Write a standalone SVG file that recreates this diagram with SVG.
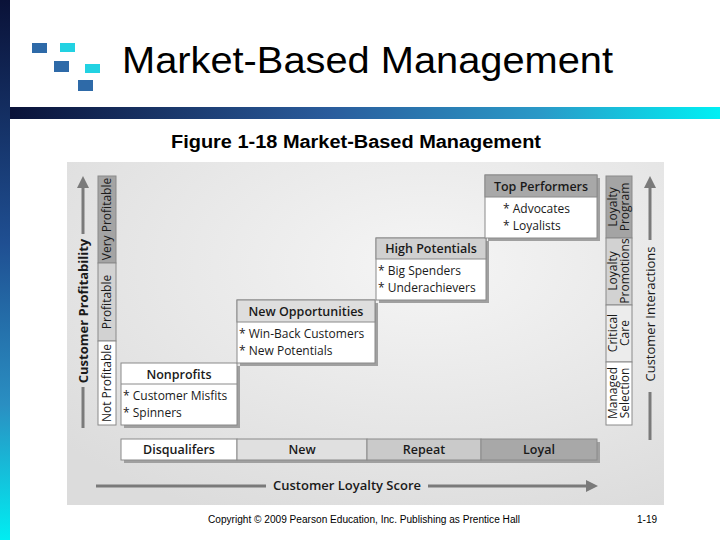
<svg xmlns="http://www.w3.org/2000/svg" width="720" height="540" viewBox="0 0 720 540">
<defs>
<linearGradient id="vstripe" x1="0" y1="0" x2="0" y2="1">
<stop offset="0" stop-color="#0a1238"/>
<stop offset="0.45" stop-color="#1f4f92"/>
<stop offset="0.75" stop-color="#2a8fc2"/>
<stop offset="1" stop-color="#00eef2"/>
</linearGradient>
<linearGradient id="hbar" x1="0" y1="0" x2="1" y2="0">
<stop offset="0" stop-color="#0a1238"/>
<stop offset="0.45" stop-color="#2a5c9c"/>
<stop offset="0.75" stop-color="#2a9ac8"/>
<stop offset="1" stop-color="#00f0f4"/>
</linearGradient>
<radialGradient id="figbg" cx="0.6" cy="0.3" r="0.8">
<stop offset="0" stop-color="#f5f5f5"/>
<stop offset="1" stop-color="#dcdcdc"/>
</radialGradient>
<marker id="ah" viewBox="0 0 10 10" refX="5" refY="5" markerWidth="4" markerHeight="4" orient="auto">
<path d="M0,0 L10,5 L0,10 z" fill="#7a7a7a"/>
</marker>
</defs>
<style>
.t{font-family:"Open Sans","Liberation Sans",sans-serif;fill:#1a1a1a}
.hd{font-size:12.5px;font-weight:600;text-anchor:middle}
.it{font-size:12px}
.ax{font-size:13px;text-anchor:middle}
.col{font-size:12px;text-anchor:middle}
.box{stroke:#8a8a8a;stroke-width:1}
.sh{fill:#a0a0a0}
.arr{stroke:#7a7a7a;stroke-width:3;fill:none}
</style>
<rect x="0" y="0" width="720" height="540" fill="#ffffff"/>
<rect x="0" y="0" width="10" height="540" fill="url(#vstripe)"/>
<rect x="10" y="107" width="710" height="12" fill="url(#hbar)"/>
<g id="logo">
<rect x="32" y="43" width="15" height="10" fill="#2e6aa8"/>
<rect x="60" y="43" width="15" height="9" fill="#22d2e2"/>
<rect x="54" y="61" width="15" height="11" fill="#2e6aa8"/>
<rect x="85" y="64" width="15" height="9" fill="#22d2e2"/>
<rect x="78" y="80" width="15" height="11" fill="#2e6aa8"/>
</g>
<text x="122" y="73" font-family="Liberation Sans, Arial, sans-serif" font-size="37" fill="#000" textLength="491" lengthAdjust="spacingAndGlyphs">Market-Based Management</text>
<text x="171" y="148" font-family="Liberation Sans, Arial, sans-serif" font-size="18" font-weight="bold" fill="#000" textLength="370" lengthAdjust="spacingAndGlyphs">Figure 1-18 Market-Based Management</text>

<rect x="67" y="162" width="597" height="343" fill="url(#figbg)"/>

<g id="connectors">
<line class="arr" x1="83" y1="428" x2="83" y2="387"/>
<line class="arr" x1="83" y1="234" x2="83" y2="182" marker-end="url(#ah)"/>
<line class="arr" x1="650" y1="440" x2="650" y2="392"/>
<line class="arr" x1="650" y1="240" x2="650" y2="182" marker-end="url(#ah)"/>
<line class="arr" x1="96" y1="486" x2="266" y2="486"/>
<line class="arr" x1="428" y1="486" x2="592" y2="486" marker-end="url(#ah)"/>
</g>
<text class="t ax" font-weight="700" transform="translate(88,311) rotate(-90)">Customer Profitability</text>
<text class="t ax" font-size="13.5" transform="translate(655,314) rotate(-90)">Customer Interactions</text>
<text class="t ax" font-weight="600" x="347" y="490">Customer Loyalty Score</text>

<g id="profit-scale">
<rect class="box" x="98" y="176" width="18" height="87" fill="#a4a4a4"/>
<rect class="box" x="98" y="263" width="18" height="78" fill="#d2d2d2"/>
<rect class="box" x="98" y="341" width="18" height="84" fill="#ffffff"/>
<text class="t col" font-size="12.5" transform="translate(111,219) rotate(-90)">Very Profitable</text>
<text class="t col" font-size="12.5" transform="translate(111,302) rotate(-90)">Profitable</text>
<text class="t col" font-size="12.5" transform="translate(111,383) rotate(-90)">Not Profitable</text>
</g>

<g id="interaction-scale">
<rect class="box" x="606" y="176" width="26" height="62" fill="#a4a4a4"/>
<rect class="box" x="606" y="238" width="26" height="67" fill="#d2d2d2"/>
<rect class="box" x="606" y="305" width="26" height="57" fill="#ececec"/>
<rect class="box" x="606" y="362" width="26" height="63" fill="#ffffff"/>
<text class="t col" transform="translate(619,207) rotate(-90)"><tspan x="0" y="-2">Loyalty</tspan><tspan x="0" y="10">Program</tspan></text>
<text class="t col" transform="translate(619,271) rotate(-90)"><tspan x="0" y="-2">Loyalty</tspan><tspan x="0" y="10">Promotions</tspan></text>
<text class="t col" transform="translate(619,333) rotate(-90)"><tspan x="0" y="-2">Critical</tspan><tspan x="0" y="10">Care</tspan></text>
<text class="t col" transform="translate(619,393) rotate(-90)"><tspan x="0" y="-2">Managed</tspan><tspan x="0" y="10">Selection</tspan></text>
</g>

<g id="nonprofits">
<rect class="sh" x="124" y="366" width="116" height="62"/>
<rect class="box" x="121" y="363" width="116" height="62" fill="#ffffff"/>
<line class="box" x1="121" y1="384" x2="237" y2="384"/>
<text class="t hd" x="179" y="379">Nonprofits</text>
<text class="t it" x="123" y="400">* Customer Misfits</text>
<text class="t it" x="123" y="417">* Spinners</text>
</g>

<g id="new-opportunities">
<rect class="sh" x="240" y="303" width="138" height="63"/>
<rect class="box" x="237" y="300" width="138" height="63" fill="#ffffff"/>
<rect class="box" x="237" y="300" width="138" height="22" fill="#dedede"/>
<text class="t hd" x="306" y="316">New Opportunities</text>
<text class="t it" x="239" y="338">* Win-Back Customers</text>
<text class="t it" x="239" y="355">* New Potentials</text>
</g>

<g id="high-potentials">
<rect class="sh" x="379" y="241" width="110" height="62"/>
<rect class="box" x="376" y="238" width="110" height="62" fill="#ffffff"/>
<rect class="box" x="376" y="238" width="110" height="21" fill="#d0d0d0"/>
<text class="t hd" x="431" y="253">High Potentials</text>
<text class="t it" x="378" y="275">* Big Spenders</text>
<text class="t it" x="378" y="292">* Underachievers</text>
</g>

<g id="top-performers">
<rect class="sh" x="488" y="178" width="112" height="63"/>
<rect class="box" x="485" y="175" width="112" height="63" fill="#ffffff"/>
<rect class="box" x="485" y="175" width="112" height="22" fill="#a8a8a8"/>
<text class="t hd" x="541" y="191">Top Performers</text>
<text class="t it" x="503" y="213">* Advocates</text>
<text class="t it" x="503" y="230">* Loyalists</text>
</g>

<g id="loyalty-bar">
<rect class="sh" x="124" y="442" width="476" height="21"/>
<rect class="box" x="121" y="439" width="116" height="21" fill="#ffffff"/>
<rect class="box" x="237" y="439" width="130" height="21" fill="#e0e0e0"/>
<rect class="box" x="367" y="439" width="114" height="21" fill="#cacaca"/>
<rect class="box" x="481" y="439" width="116" height="21" fill="#a8a8a8"/>
<text class="t hd" x="179" y="454">Disqualifers</text>
<text class="t hd" x="302" y="454">New</text>
<text class="t hd" x="424" y="454">Repeat</text>
<text class="t hd" x="539" y="454">Loyal</text>
</g>

<text x="208" y="523" font-family="Liberation Sans, Arial, sans-serif" font-size="10" fill="#000" textLength="312" lengthAdjust="spacingAndGlyphs">Copyright © 2009 Pearson Education, Inc.  Publishing as Prentice Hall</text>
<text x="637" y="523" font-family="Liberation Sans, Arial, sans-serif" font-size="10" fill="#000">1-19</text>
</svg>
